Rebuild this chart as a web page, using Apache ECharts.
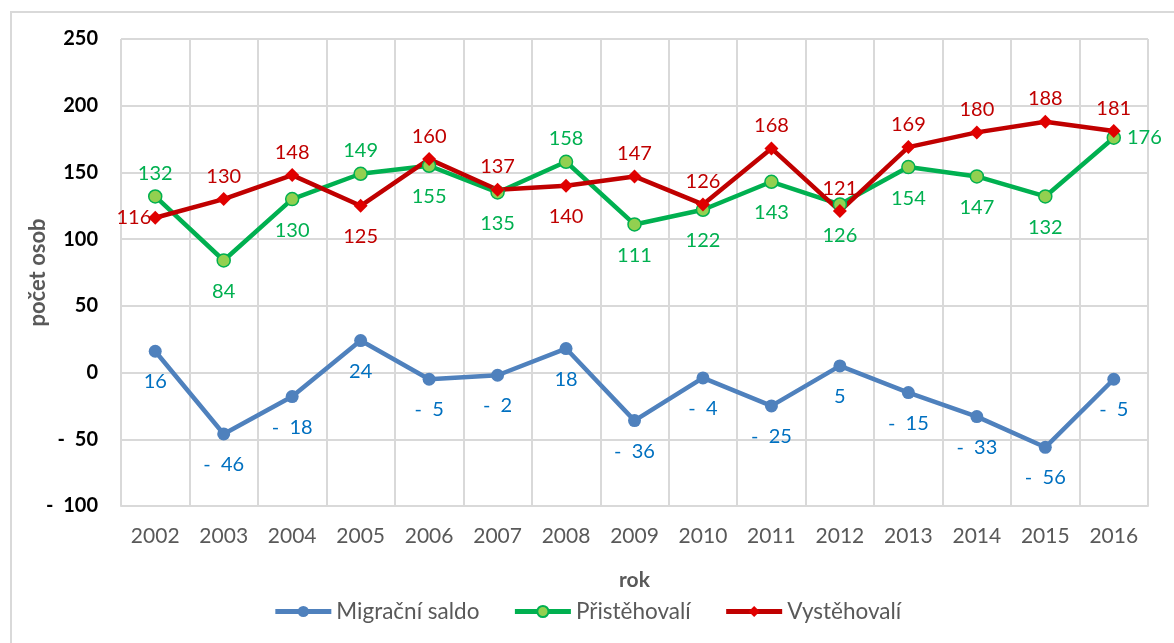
<!DOCTYPE html>
<html><head><meta charset="utf-8">
<script src="https://cdn.jsdelivr.net/npm/echarts@6/dist/echarts.min.js"></script>
<style>html,body{margin:0;padding:0;background:#fff}#c{width:1174px;height:643px}</style>
</head><body><div id="c"></div>
<script>
var years = ['2002','2003','2004','2005','2006','2007','2008','2009','2010','2011','2012','2013','2014','2015','2016'];
var saldo = [16, -46, -18, 24, -5, -2, 18, -36, -4, -25, 5, -15, -33, -56, -5];
var pristehovali = [132, 84, 130, 149, 155, 135, 158, 111, 122, 143, 126, 154, 147, 132, 176];
var vystehovali = [116, 130, 148, 125, 160, 137, 140, 147, 126, 168, 121, 169, 180, 188, 181];
var yTicks = {min: -100, max: 250, interval: 50};

var posSaldo = ['bottom','bottom','bottom','bottom','bottom','bottom','bottom','bottom','bottom','bottom','bottom','bottom','bottom','bottom','bottom'];
var posPrist = ['top','bottom','bottom','top','bottom','bottom','top','bottom','bottom','bottom','bottom','bottom','bottom','bottom','right'];
var posVyst = ['left','top','top','bottom','top','top','bottom','top','top','top','top','top','top','top','top'];
var distByPos = {top: 6, bottom: 14, left: -3, right: 6};

function fmt(v){ return v < 0 ? '-  ' + Math.abs(v) : String(v); }
var FONT = 'Lato, "Open Sans", sans-serif';
function mk(vals, pos){
  return vals.map(function(v,i){
    return {value: v, label: {position: pos[i], distance: distByPos[pos[i]]}};
  });
}
var chart = echarts.init(document.getElementById('c'));
chart.setOption({
  animation: false,
  textStyle: {fontFamily: FONT},
  graphic: [{type:'rect', shape:{x:11,y:12,width:1200,height:700}, style:{fill:'none', stroke:'#D9D9D9', lineWidth:2}, silent:true}],
  grid: {left: 121, right: 26, top: 39, bottom: 137},
  legend: {
    top: 595, itemWidth: 56, itemHeight: 14, itemGap: 33,
    lineStyle: {width: 5},
    textStyle: {fontSize: 22.5, color: '#595959', fontFamily: FONT},
    data: ['Migrační saldo','Přistěhovalí','Vystěhovalí']
  },
  xAxis: {
    type: 'category', data: years, boundaryGap: true,
    name: 'rok', nameLocation: 'middle', nameGap: 64,
    nameTextStyle: {fontSize: 21, fontWeight: 'bold', color: '#595959', fontFamily: FONT},
    axisLine: {onZero: false, lineStyle: {color: '#D9D9D9', width: 2}},
    axisTick: {show: false},
    axisLabel: {fontSize: 21, color: '#595959', margin: 20, fontFamily: FONT},
    splitLine: {show: true, interval: 0, lineStyle: {color: '#D9D9D9', width: 2}}
  },
  yAxis: {
    type: 'value', min: yTicks.min, max: yTicks.max, interval: yTicks.interval,
    name: 'počet osob', nameLocation: 'middle', nameGap: 72, nameMoveOverlap: false,
    nameTextStyle: {fontSize: 22, fontWeight: 'bold', color: '#595959', fontFamily: FONT},
    axisLine: {show: false}, axisTick: {show: false},
    axisLabel: {fontSize: 20, fontWeight: 'bold', color: '#000', margin: 23, formatter: fmt, fontFamily: FONT},
    splitLine: {lineStyle: {color: '#D9D9D9', width: 2}}
  },
  series: [
    {
      name: 'Migrační saldo', type: 'line', data: mk(saldo, posSaldo),
      symbol: 'circle', symbolSize: 13,
      lineStyle: {color: '#4F81BD', width: 4.5},
      itemStyle: {color: '#4F81BD'},
      label: {show: true, fontSize: 20, color: '#0070C0', formatter: function(p){return fmt(p.value);}, fontFamily: FONT}
    },
    {
      name: 'Přistěhovalí', type: 'line', data: mk(pristehovali, posPrist),
      symbol: 'circle', symbolSize: 13,
      lineStyle: {color: '#00B050', width: 4.5},
      itemStyle: {color: '#92D050', borderColor: '#00B050', borderWidth: 1.5},
      label: {show: true, fontSize: 20, color: '#00B050', formatter: function(p){return fmt(p.value);}, fontFamily: FONT}
    },
    {
      name: 'Vystěhovalí', type: 'line', data: mk(vystehovali, posVyst),
      symbol: 'diamond', symbolSize: 14,
      lineStyle: {color: '#C00000', width: 4.5},
      itemStyle: {color: '#E00000'},
      label: {show: true, fontSize: 20, color: '#C00000', formatter: function(p){return fmt(p.value);}, fontFamily: FONT}
    }
  ]
});
</script></body></html>
